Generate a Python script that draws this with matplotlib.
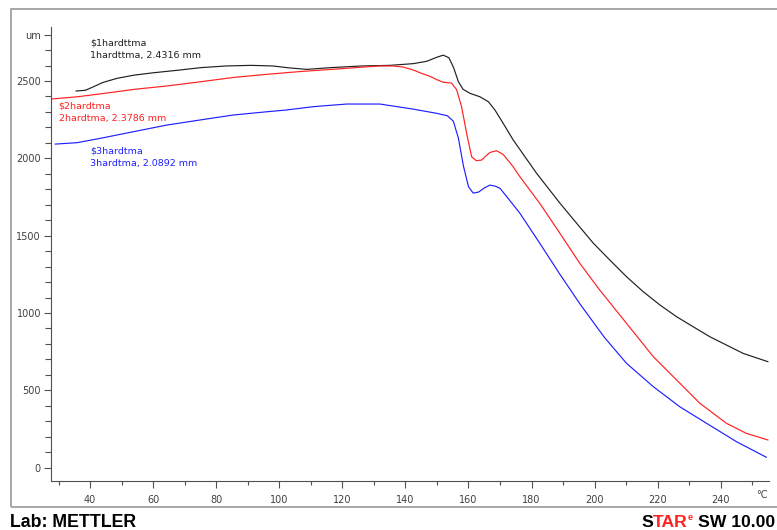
#!/usr/bin/env python3
"""TMA curves of three hardened samples: sample height (um) versus temperature (degC)."""
import matplotlib
matplotlib.use('Agg')
import matplotlib.pyplot as plt
from matplotlib.patches import Rectangle
from matplotlib.ticker import FixedLocator, MultipleLocator

# --- curve data -------------------------------------------------------------
temp_1 = [35.5, 38.5, 41, 44, 48.5, 54, 60, 68.5, 75, 83, 91, 98, 103, 108.7,
          116, 126, 135, 142.4, 146.7, 149.9, 152, 153.8, 155.3, 156.8, 158.3,
          160.5, 163.6, 166.3, 168.4, 171, 174.2, 181.6, 189, 194.3, 199.6,
          204.8, 210.1, 215.4, 220.7, 226, 231.2, 236.5, 241.8, 247.1, 255]
height_1 = [2435, 2440, 2462, 2490, 2517, 2538, 2553, 2571, 2586, 2597, 2601,
            2597, 2585, 2575, 2586, 2597, 2601, 2612, 2627, 2653, 2667, 2650,
            2585, 2495, 2446, 2420, 2398, 2366, 2312, 2226, 2118, 1903, 1710,
            1580, 1451, 1343, 1235, 1138, 1052, 976, 912, 847, 793, 739, 685]

temp_2 = [27.5, 36, 43, 54, 64, 75, 85.5, 96, 106, 115, 122, 128, 132, 136,
          139.3, 142.5, 145, 147.8, 150, 152, 154.6, 156.2, 157.8, 159.4, 161,
          162.5, 164.2, 165.5, 166.8, 168.9, 171, 174, 176.3, 182.6, 189,
          195.3, 201.6, 208, 213, 218.6, 226, 233.4, 241.8, 248.1, 255]
height_2 = [2383, 2398, 2416, 2446, 2467, 2495, 2523, 2543, 2560, 2573, 2583,
            2592, 2597, 2597, 2590, 2571, 2550, 2530, 2508, 2492, 2487, 2445,
            2334, 2162, 2010, 1985, 1989, 2015, 2038, 2049, 2025, 1950, 1881,
            1709, 1515, 1321, 1149, 987, 860, 718, 567, 416, 287, 222, 179]

temp_3 = [28.9, 35.8, 43.2, 53.7, 64.3, 74.9, 85.4, 96, 102, 110.8, 121.4,
          131.9, 142.5, 149.9, 153.3, 155.2, 156.8, 158.4, 160, 161.5, 163.2,
          165, 166.8, 168.5, 170, 173, 176.3, 182.6, 189, 195.3, 203, 210.1,
          218.6, 227, 235.5, 245, 254.5]
height_3 = [2092, 2101, 2129, 2172, 2215, 2248, 2280, 2301, 2312, 2334, 2351,
            2351, 2318, 2291, 2275, 2240, 2130, 1950, 1816, 1775, 1782, 1808,
            1827, 1820, 1806, 1730, 1645, 1451, 1250, 1060, 845, 675, 524,
            394, 287, 168, 67]

curve_names = ['$1hardttma', '$2hardtma', '$3hardtma']
curve_infos = ['1hardttma, 2.4316 mm', '2hardtma, 2.3786 mm', '3hardtma, 2.0892 mm']
curve_colors = ['#202020', '#ff2020', '#2020ff']
# where each name/info pair is written (temperature, height of first line)
label_temps = [40, 30, 40]
label_heights = [2744, 2337, 2047]

y_major = [0, 500, 1000, 1500, 2000, 2500, 2800]
y_major_labels = ['0', '500', '1000', '1500', '2000', '2500', 'um']
x_major = [40, 60, 80, 100, 120, 140, 160, 180, 200, 220, 240]

W, H = 777, 530
fig = plt.figure(figsize=(W / 100, H / 100), dpi=100)
fig.patch.set_facecolor('white')

# grey frame around the plot area
fig.patches.append(Rectangle((11 / W, 1 - 507 / H), 2.0, 498 / H,
                             transform=fig.transFigure, fill=False,
                             edgecolor='#a0a0a0', linewidth=1.3))

ax = fig.add_axes([50.7 / W, 1 - 481 / H, 718.3 / W, 454 / H])
ax.set_xlim(27.5, 255.3)
ax.set_ylim(-86, 2849)

for t, h, c in zip([temp_1, temp_2, temp_3], [height_1, height_2, height_3],
                   curve_colors):
    ax.plot(t, h, color=c, linewidth=0.85, solid_capstyle='round')

for name, info, c, lt, lh in zip(curve_names, curve_infos, curve_colors,
                                 label_temps, label_heights):
    ax.text(lt, lh, name, color=c, fontsize=6.8, ha='left', va='center')
    ax.text(lt, lh - 82, info, color=c, fontsize=6.8, ha='left', va='center')

for side in ('top', 'right'):
    ax.spines[side].set_visible(False)
for side in ('left', 'bottom'):
    ax.spines[side].set_color('#505050')
    ax.spines[side].set_linewidth(0.8)

ax.yaxis.set_major_locator(FixedLocator(y_major))
ax.set_yticklabels(y_major_labels)
ax.yaxis.set_minor_locator(MultipleLocator(100))
ax.xaxis.set_major_locator(FixedLocator(x_major))
ax.set_xticklabels([str(v) for v in x_major])
ax.xaxis.set_minor_locator(FixedLocator(list(range(30, 251, 10))))

ax.tick_params(axis='both', which='both', colors='#505050', width=0.8,
               labelsize=7, labelcolor='#404040')
ax.tick_params(axis='y', which='major', length=5, pad=2)
ax.tick_params(axis='y', which='minor', length=4)
ax.tick_params(axis='x', which='major', length=5, pad=5)
ax.tick_params(axis='x', which='minor', length=3)

# temperature unit sits where the last tick label would be
ax.annotate('°C', xy=(253, 0), xycoords=('data', 'axes fraction'),
            xytext=(0, -10), textcoords='offset points', ha='center',
            va='center', fontsize=7, color='#404040')

# footer
fig.text(10 / W, 1 - 527 / H, 'Lab: METTLER', fontsize=12.8,
         fontweight='bold', family='Liberation Sans', ha='left',
         va='baseline')

renderer = fig.canvas.get_renderer()
base_y = 1 - 527 / H
x_right = 775 / W
pieces = [('SW 10.00', 'black', 12.6, 0.0, 5),
          ('e', '#ff2020', 6.5, 7 / H, 0),
          ('TAR', '#ff2020', 12.6, 0.0, 0),
          ('S', 'black', 12.6, 0.0, 0)]
for txt, col, size, dy, gap in pieces:
    t = fig.text(x_right, base_y + dy, txt, fontsize=size, fontweight='bold',
                 family='Liberation Sans', color=col, ha='right',
                 va='baseline')
    x_right = t.get_window_extent(renderer).x0 / W - gap / W

fig.savefig('out.png', dpi=100)
